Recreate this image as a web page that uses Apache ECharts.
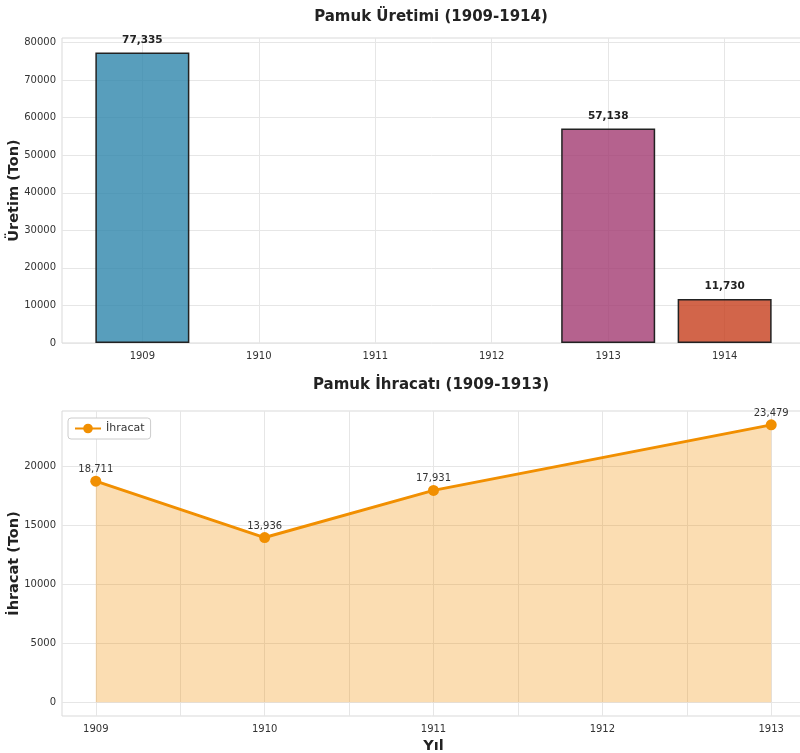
<!DOCTYPE html>
<html>
<head>
<meta charset="utf-8">
<script src="https://cdn.jsdelivr.net/npm/echarts@6/dist/echarts.min.js"></script>
<style>
  html, body { margin: 0; padding: 0; background: #fff; }
  #main { width: 800px; height: 753px; }
</style>
</head>
<body>
<div id="main"></div>
<script>
// üretim verisi (1910-1912 boş)
var prodYears = [1909, 1910, 1911, 1912, 1913, 1914];
var prodValues = [77335, null, null, null, 57138, 11730];
var prodTicks = [0, 10000, 20000, 30000, 40000, 50000, 60000, 70000, 80000];
// ihracat verisi (1912 yok)
var expYears = [1909, 1910, 1911, 1913];
var expValues = [18711, 13936, 17931, 23479];
var expYearTicks = [1909, 1910, 1911, 1912, 1913];
var expGridTicks = [1909, 1909.5, 1910, 1910.5, 1911, 1911.5, 1912, 1912.5, 1913];
var expTicks = [0, 5000, 10000, 15000, 20000];

var barColors = {1909: 'rgba(46,134,171,0.8)', 1913: 'rgba(162,59,114,0.8)', 1914: 'rgba(199,62,29,0.8)'};
var FONT = 'DejaVu Sans';

function fmt(v) { return Number(v).toLocaleString('en-US'); }
function plain(v) { return String(v); }

var barData = [];
prodYears.forEach(function (y, i) {
    if (prodValues[i] == null) return;
    barData.push({value: [y, prodValues[i]], itemStyle: {color: barColors[y]}});
});
var lineData = expYears.map(function (y, i) { return [y, expValues[i]]; });

var chart = echarts.init(document.getElementById('main'));
var gridLine = {show: true, lineStyle: {color: '#e6e6e6', width: 1}};
var tickLabel = {color: '#333', fontSize: 10, fontFamily: FONT, formatter: plain};
var nameStyle = {fontSize: 14.5, fontWeight: 'bold', color: '#222', fontFamily: FONT};

option = {
    backgroundColor: '#fff',
    animation: false,
    title: [
        {text: 'Pamuk Üretimi (1909-1914)', left: 426, top: 5, textAlign: 'center',
         textStyle: {fontSize: 15, fontWeight: 'bold', color: '#222', fontFamily: FONT}},
        {text: 'Pamuk İhracatı (1909-1913)', left: 426, top: 373, textAlign: 'center',
         textStyle: {fontSize: 15, fontWeight: 'bold', color: '#222', fontFamily: FONT}}
    ],
    legend: {
        data: ['İhracat'],
        left: 68, top: 418,
        itemWidth: 26, itemHeight: 12,
        borderColor: '#ccc', borderWidth: 1, borderRadius: 3,
        padding: [5, 6], backgroundColor: '#fff',
        textStyle: {fontSize: 11, color: '#333', fontFamily: FONT}
    },
    grid: [
        {left: 62, top: 38, width: 743, height: 305, show: true, borderColor: '#d9d9d9', borderWidth: 1,
         outerBoundsMode: 'none', containLabel: false},
        {left: 62, top: 411, width: 743, height: 305, show: true, borderColor: '#d9d9d9', borderWidth: 1,
         outerBoundsMode: 'none', containLabel: false}
    ],
    xAxis: [
        {
            type: 'value', gridIndex: 0, min: 1908.31, max: 1914.69,
            axisLine: {show: false},
            axisTick: {show: false, customValues: prodYears},
            axisLabel: Object.assign({customValues: prodYears, margin: 8}, tickLabel),
            splitLine: gridLine
        },
        {
            type: 'value', gridIndex: 1, min: 1908.8, max: 1913.2,
            name: 'Yıl', nameLocation: 'middle', nameGap: 23, nameMoveOverlap: false,
            nameTextStyle: nameStyle,
            axisLine: {show: false},
            axisTick: {show: false, customValues: expGridTicks},
            axisLabel: Object.assign({customValues: expYearTicks, margin: 8}, tickLabel),
            splitLine: gridLine
        }
    ],
    yAxis: [
        {
            type: 'value', gridIndex: 0, min: 0, max: 81202,
            name: 'Üretim (Ton)', nameLocation: 'middle', nameGap: 40, nameMoveOverlap: false,
            nameTextStyle: nameStyle,
            axisLine: {show: false},
            axisTick: {show: false, customValues: prodTicks},
            axisLabel: Object.assign({customValues: prodTicks, margin: 6}, tickLabel),
            splitLine: gridLine
        },
        {
            type: 'value', gridIndex: 1, min: -1174, max: 24653,
            name: 'İhracat (Ton)', nameLocation: 'middle', nameGap: 40, nameMoveOverlap: false,
            nameTextStyle: nameStyle,
            axisLine: {show: false},
            axisTick: {show: false, customValues: expTicks},
            axisLabel: Object.assign({customValues: expTicks, margin: 6}, tickLabel),
            splitLine: gridLine
        }
    ],
    series: [
        {
            name: 'Üretim', type: 'bar', xAxisIndex: 0, yAxisIndex: 0,
            barWidth: 94,
            data: barData,
            itemStyle: {borderColor: '#222', borderWidth: 1.5},
            label: {
                show: true, position: 'top', distance: 7,
                fontSize: 10.5, fontWeight: 'bold', color: '#222', fontFamily: FONT,
                formatter: function (p) { return fmt(p.value[1]); }
            }
        },
        {
            name: 'İhracat', type: 'line', xAxisIndex: 1, yAxisIndex: 1,
            data: lineData,
            color: '#F18F01',
            symbol: 'circle', symbolSize: 11,
            lineStyle: {width: 3, color: '#F18F01'},
            itemStyle: {color: '#F18F01'},
            areaStyle: {color: '#F18F01', opacity: 0.3},
            label: {
                show: true, position: 'top', distance: 1,
                fontSize: 10, color: '#333', fontFamily: FONT,
                formatter: function (p) { return fmt(p.value[1]); }
            }
        }
    ]
};
chart.setOption(option);
</script>
</body>
</html>
